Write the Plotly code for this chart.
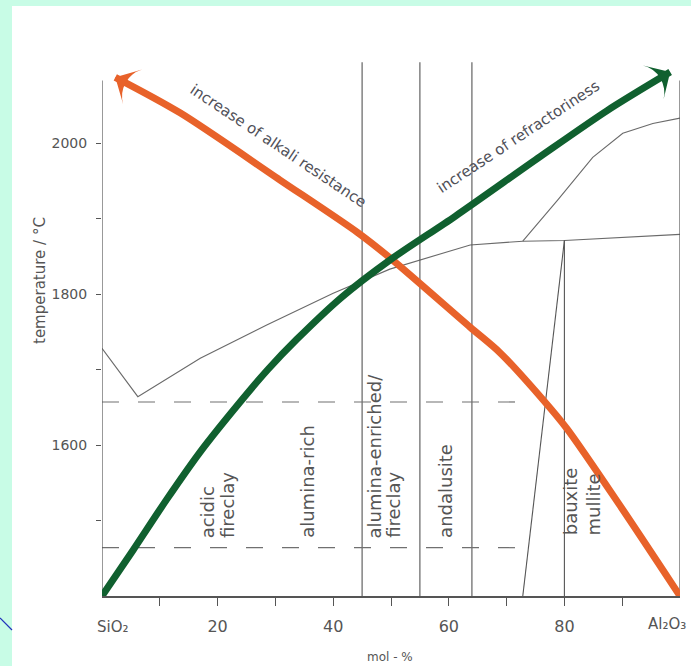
import plotly.graph_objects as go

# ---- Al2O3-SiO2 diagram: composition in mol-% Al2O3, temperature in °C ----
liquidus_x = [0, 6.2, 17, 28.5, 40, 49.8, 63.7, 72.8, 80, 100]
liquidus_t = [1728, 1664, 1715, 1759, 1801, 1833, 1865, 1870, 1871, 1879]

corundum_x = [72.8, 78.9, 84.9, 90.1, 95.3, 100]
corundum_t = [1870, 1925, 1981, 2013, 2026, 2033]

mullite_left_x = [72.8, 80]
mullite_left_t = [1400, 1871]
mullite_right_x = [80, 80]
mullite_right_t = [1400, 1871]

boundary_x = [45, 55, 64]
boundary_t = [1400, 2107]

dashed_t = [1657, 1464]
dashed_x = [0, 73.2]

frame_t = [1400, 2083]

# broad trend arrows
refract_x = [0, 5.4, 11.2, 17.0, 23.9, 28.7, 33.7, 41.5, 49.8, 61.1, 75.8, 87.4, 98.3]
refract_t = [1400, 1461, 1528, 1591, 1657, 1700, 1740, 1796, 1845, 1903, 1982, 2043, 2094]

alkali_x = [100, 89.6, 80.4, 76.3, 68.9, 63.7, 49.8, 44.3, 30.8, 13.5, 2.3]
alkali_t = [1400, 1520, 1622, 1660, 1722, 1756, 1848, 1881, 1951, 2040, 2087]

# field names, one text column each (read bottom to top)
region_lines = ["acidic", "fireclay", "alumina-rich", "alumina-enriched/", "fireclay",
                "andalusite", "bauxite", "mullite"]
region_x = [18.2, 21.6, 35.5, 47.2, 50.3, 59.3, 81.0, 85.0]
region_base_t = [1474, 1474, 1474, 1474, 1474, 1474, 1478, 1478]

x_major_vals = [20, 40, 60, 80]
x_major_text = ["20", "40", "60", "80"]
x_minor_vals = [10, 30, 50, 70, 90]
y_major_vals = [1600, 1800, 2000]
y_major_text = ["1600", "1800", "2000"]
y_minor_vals = [1500, 1700, 1900]

FONT = "DejaVu Sans, Verdana, sans-serif"
INK = "#555555"
TEXT = "#505058"
ORANGE = "#E8622A"
GREEN = "#10602F"
MINT = "#C8FCE6"

fig = go.Figure()

thin = dict(color=INK, width=1.1)
fig.add_trace(go.Scatter(x=liquidus_x, y=liquidus_t, mode="lines",
                         line=dict(color="#6a6a6a", width=1.1), hoverinfo="skip"))
fig.add_trace(go.Scatter(x=corundum_x, y=corundum_t, mode="lines",
                         line=dict(color="#6a6a6a", width=1.1), hoverinfo="skip"))
fig.add_trace(go.Scatter(x=mullite_left_x, y=mullite_left_t, mode="lines",
                         line=thin, hoverinfo="skip"))
fig.add_trace(go.Scatter(x=mullite_right_x, y=mullite_right_t, mode="lines",
                         line=thin, hoverinfo="skip"))
for bx in boundary_x:
    fig.add_trace(go.Scatter(x=[bx, bx], y=boundary_t, mode="lines",
                             line=thin, hoverinfo="skip"))
for dt in dashed_t:
    fig.add_trace(go.Scatter(x=dashed_x, y=[dt, dt], mode="lines",
                             line=dict(color="#707070", width=1.2, dash="17px,19px"),
                             hoverinfo="skip"))
# side frame lines
for fx in (0, 100):
    fig.add_trace(go.Scatter(x=[fx, fx], y=frame_t, mode="lines",
                             line=dict(color=INK, width=1.2), hoverinfo="skip",
                             cliponaxis=False))

# trend arrows: spline body plus a solid head on the final point
for xs, ts, col in ((alkali_x, alkali_t, ORANGE), (refract_x, refract_t, GREEN)):
    fig.add_trace(go.Scatter(
        x=xs, y=ts, mode="lines",
        line=dict(color=col, width=7, shape="spline", smoothing=0.8),
        hoverinfo="skip"))
    fig.add_trace(go.Scatter(
        x=xs[-2:], y=ts[-2:], mode="markers", opacity=1,
        marker=dict(symbol="arrow-wide", size=[0, 28], color=col, opacity=1,
                    angleref="previous", line=dict(width=0)),
        hoverinfo="skip", cliponaxis=False))

ann = []
for label, rx, rt in zip(region_lines, region_x, region_base_t):
    ann.append(dict(
        x=rx, y=rt, xref="x", yref="y", showarrow=False, text=label,
        textangle=-90, xanchor="center", yanchor="bottom",
        font=dict(family=FONT, size=18, color=INK)))

ann.append(dict(x=30.5, y=1996, xref="x", yref="y", showarrow=False,
                text="increase of alkali resistance", xanchor="center", yanchor="middle",
                textangle=33.8, font=dict(family=FONT, size=15, color=TEXT)))
ann.append(dict(x=72.0, y=2008, xref="x", yref="y", showarrow=False,
                text="increase of refractoriness", xanchor="center", yanchor="middle",
                textangle=-33.4, font=dict(family=FONT, size=15, color=TEXT)))

ann.append(dict(x=-0.107, y=0.588, xref="paper", yref="paper", showarrow=False,
                text="temperature / °C", textangle=-90,
                xanchor="center", yanchor="middle",
                font=dict(family=FONT, size=15, color=INK)))
ann.append(dict(x=0.498, y=-0.114, xref="paper", yref="paper", showarrow=False,
                text="mol - %", xanchor="center", yanchor="middle",
                font=dict(family=FONT, size=12, color=INK)))
ann.append(dict(x=1.9, y=-0.058, xref="x", yref="paper", showarrow=False,
                text="SiO₂", xanchor="center", yanchor="middle",
                font=dict(family=FONT, size=15, color=INK)))
ann.append(dict(x=97.8, y=-0.052, xref="x", yref="paper", showarrow=False,
                text="Al₂O₃", xanchor="center", yanchor="middle",
                font=dict(family=FONT, size=15, color=INK)))

shapes = [
    dict(type="rect", xref="paper", yref="paper", x0=-0.1557, x1=1.02,
         y0=-0.135, y1=1.1007, fillcolor="white", line=dict(width=0), layer="below"),
    dict(type="line", xref="paper", yref="paper", x0=-0.1765, y0=-0.041,
         x1=-0.1557, y1=-0.0634, line=dict(color="#2233BB", width=1.2)),
]

fig.update_layout(
    width=691, height=666, autosize=False,
    margin=dict(l=102, r=11, t=60, b=70),
    paper_bgcolor=MINT, plot_bgcolor="white",
    showlegend=False, annotations=ann, shapes=shapes,
    xaxis=dict(range=[0, 100], showgrid=False, zeroline=False,
               showline=True, linecolor=INK, linewidth=1.5,
               ticks="outside", ticklen=8, tickcolor=INK, tickwidth=1,
               tickmode="array", tickvals=x_major_vals, ticktext=x_major_text,
               minor=dict(tickmode="array", tickvals=x_minor_vals, ticks="outside",
                          ticklen=8, tickcolor=INK, tickwidth=1, showgrid=False),
               ticklabelstandoff=7,
               tickfont=dict(family=FONT, size=16, color=INK)),
    yaxis=dict(range=[1400, 2110], showgrid=False, zeroline=False,
               showline=False,
               ticks="outside", ticklen=5, tickcolor=INK, tickwidth=1,
               tickmode="array", tickvals=y_major_vals, ticktext=y_major_text,
               minor=dict(tickmode="array", tickvals=y_minor_vals, ticks="outside",
                          ticklen=5, tickcolor=INK, tickwidth=1, showgrid=False),
               ticklabelstandoff=6,
               tickfont=dict(family=FONT, size=14, color=INK)),
)

fig.write_html("out.html")
